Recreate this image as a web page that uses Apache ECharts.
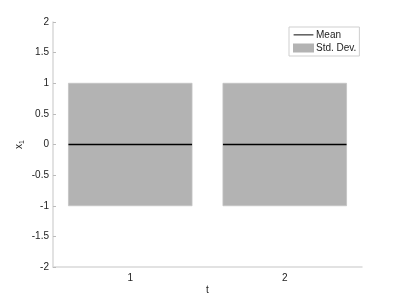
<!DOCTYPE html>
<html><head><meta charset="utf-8">
<script src="https://cdn.jsdelivr.net/npm/echarts@6/dist/echarts.min.js"></script>
<style>html,body{margin:0;padding:0;background:#fff}#c{width:400px;height:300px}</style>
</head><body><div id="c"></div>
<script>
var categories = ['1', '2'];
var meanValues = [0, 0];
var stdValues = [1, 1];
var yTicks = [-2, -1.5, -1, -0.5, 0, 0.5, 1, 1.5, 2];

var chart = echarts.init(document.getElementById('c'), null, {renderer: 'canvas'});
var font = 'Liberation Sans, Arial, sans-serif';
var axisCol = '#d9d9d9';

function rectItem(params, api) {
  var idx = api.value(0);
  var m = api.value(1), s = api.value(2);
  var top = api.coord([idx, m + s]);
  var bot = api.coord([idx, m - s]);
  var bw = api.size([1, 0])[0] * 0.8;
  return {type: 'rect', shape: {x: top[0] - bw / 2, y: top[1], width: bw, height: bot[1] - top[1]},
    style: {fill: '#b3b3b3', stroke: '#c4c4c4', lineWidth: 0.8}};
}
function lineItem(params, api) {
  var idx = api.value(0);
  var p = api.coord([idx, api.value(1)]);
  var bw = api.size([1, 0])[0] * 0.8;
  return {type: 'line', shape: {x1: p[0] - bw / 2, y1: p[1], x2: p[0] + bw / 2, y2: p[1]},
    style: {stroke: '#000', lineWidth: 1.5}};
}

chart.setOption({
  animation: false,
  grid: {left: 53, right: 38, top: 22, bottom: 33},
  legend: {
    orient: 'vertical', left: 289, top: 27, padding: [3, 3, 3, 4], itemGap: 3,
    itemWidth: 21, itemHeight: 9,
    borderColor: '#cfcfcf', borderWidth: 1, backgroundColor: '#fff',
    textStyle: {fontFamily: font, fontSize: 10, color: '#222', padding: [0, 0, 0, -3]},
    data: [
      {name: 'Mean', icon: 'path://M0,0L0,0M0,4L22,4L22,5.6L0,5.6ZM0,10L0,10', itemStyle: {color: '#555'}},
      {name: 'Std. Dev.', icon: 'rect', itemStyle: {color: '#b3b3b3'}}
    ]
  },
  xAxis: {
    type: 'category', data: categories, boundaryGap: true,
    name: 't', nameLocation: 'middle', nameGap: 18, nameMoveOverlap: false,
    nameTextStyle: {fontFamily: font, fontSize: 10, color: '#222'},
    axisLine: {onZero: false, lineStyle: {color: axisCol, width: 1.5}},
    axisTick: {alignWithLabel: true, inside: true, length: 3, lineStyle: {color: '#999'}},
    axisLabel: {fontFamily: font, fontSize: 10, color: '#222', margin: 6},
    splitLine: {show: false}
  },
  yAxis: {
    type: 'value', min: -2, max: 2, interval: 0.5,
    name: 'x{s|1}', nameLocation: 'middle', nameGap: 27, nameRotate: 90, nameMoveOverlap: false,
    nameTextStyle: {fontFamily: font, fontSize: 10, color: '#222',
      rich: {s: {fontFamily: font, fontSize: 7, color: '#222', verticalAlign: 'bottom', padding: [6, 0, 0, 0]}}},
    axisLine: {show: true, onZero: false, lineStyle: {color: axisCol, width: 1.5}},
    axisTick: {show: true, inside: true, length: 3, lineStyle: {color: '#bbb'}},
    axisLabel: {fontFamily: font, fontSize: 10, color: '#222', margin: 4,
      formatter: function (v) { return yTicks.indexOf(v) >= 0 ? String(v) : ''; }},
    splitLine: {show: false}
  },
  series: [
    {name: 'Std. Dev.', type: 'custom', renderItem: rectItem, itemStyle: {color: '#b3b3b3'},
      data: categories.map(function (c, i) { return [i, meanValues[i], stdValues[i]]; }), z: 1},
    {name: 'Mean', type: 'custom', renderItem: lineItem, itemStyle: {color: '#555'},
      data: categories.map(function (c, i) { return [i, meanValues[i]]; }), z: 2}
  ]
});
</script></body></html>
